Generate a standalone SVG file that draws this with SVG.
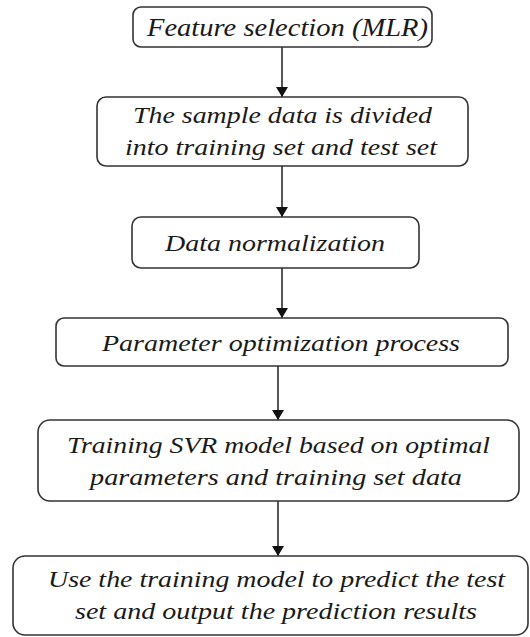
<svg xmlns="http://www.w3.org/2000/svg" width="530" height="637" viewBox="0 0 530 637">
<defs>
<marker id="arr" viewBox="0 0 10 12" refX="10" refY="6" markerWidth="10" markerHeight="12" markerUnits="userSpaceOnUse" orient="auto">
<path d="M0,0 L10,6 L0,12 Z" fill="#111"/>
</marker>
<style>
.box{fill:#fff;stroke:#333;stroke-width:1.6}
.t{font-family:"Liberation Serif","Times New Roman",serif;font-style:italic;font-size:24px;fill:#1a1a1a;text-anchor:middle}
.c{stroke:#111;stroke-width:1.4;fill:none}
</style>
</defs>
<rect width="530" height="637" fill="#fff"/>
<g id="connectors">
<line class="c" x1="282" y1="47" x2="282" y2="97" marker-end="url(#arr)"/>
<line class="c" x1="282" y1="166" x2="282" y2="217" marker-end="url(#arr)"/>
<line class="c" x1="282" y1="268" x2="282" y2="318" marker-end="url(#arr)"/>
<line class="c" x1="278" y1="366" x2="278" y2="420" marker-end="url(#arr)"/>
<line class="c" x1="278" y1="501" x2="278" y2="556" marker-end="url(#arr)"/>
</g>
<g id="n1">
<rect class="box" x="133" y="7" width="299" height="40" rx="8"/>
<text class="t" x="287.5" y="36" textLength="281" lengthAdjust="spacingAndGlyphs" style="font-size:25px">Feature selection  (MLR)</text>
</g>
<g id="n2">
<rect class="box" x="97" y="97" width="371" height="69" rx="9"/>
<text class="t" x="282.5" y="123" textLength="299" lengthAdjust="spacingAndGlyphs">The sample data is divided</text>
<text class="t" x="281" y="155" textLength="312" lengthAdjust="spacingAndGlyphs">into training set and test set</text>
</g>
<g id="n3">
<rect class="box" x="132" y="217" width="287" height="51" rx="9"/>
<text class="t" x="275" y="251" textLength="220" lengthAdjust="spacingAndGlyphs">Data normalization</text>
</g>
<g id="n4">
<rect class="box" x="56" y="318" width="452" height="48" rx="8"/>
<text class="t" x="281" y="351" textLength="358" lengthAdjust="spacingAndGlyphs">Parameter optimization process</text>
</g>
<g id="n5">
<rect class="box" x="38" y="420" width="481" height="81" rx="12"/>
<text class="t" x="278.5" y="453" textLength="423" lengthAdjust="spacingAndGlyphs">Training SVR model based on optimal</text>
<text class="t" x="276" y="485" textLength="372" lengthAdjust="spacingAndGlyphs">parameters and training set data</text>
</g>
<g id="n6">
<rect class="box" x="13" y="556" width="515" height="79" rx="12"/>
<text class="t" x="276.5" y="587" textLength="457" lengthAdjust="spacingAndGlyphs">Use the training model to predict the test</text>
<text class="t" x="276" y="619" textLength="402" lengthAdjust="spacingAndGlyphs">set and output the prediction results</text>
</g>
</svg>
